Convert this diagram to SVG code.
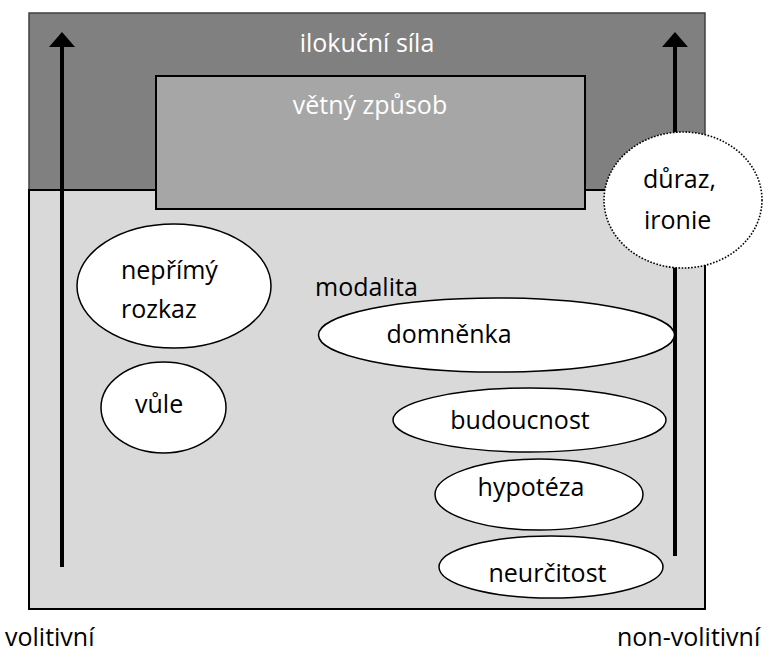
<svg xmlns="http://www.w3.org/2000/svg" width="766" height="655" viewBox="0 0 766 655">
<style>
text{font-family:"Open Sans","Noto Sans","DejaVu Sans",sans-serif;font-size:25px;fill:#000}
.w{fill:#fff}
.m{text-anchor:middle}
.node{fill:#fff;stroke:#000;stroke-width:1.5}
.dot{fill:#fff;stroke:#000;stroke-width:1.6;stroke-dasharray:1.6 1.6}
.arr{stroke:#000;stroke-width:4;fill:none}
</style>
<rect width="766" height="655" fill="#fff"/>
<g id="ilokucni-sila">
<rect x="29" y="13" width="676" height="177" fill="#808080" stroke="#404040" stroke-width="1.5"/>
<text class="w m" x="367" y="52">ilokuční síla</text>
</g>
<g id="modalita-area">
<rect x="29" y="190" width="676" height="419" fill="#d9d9d9" stroke="#000" stroke-width="2"/>
<text x="315" y="296">modalita</text>
</g>
<g id="vetny-zpusob">
<rect x="156" y="76" width="429" height="133" fill="#a6a6a6" stroke="#000" stroke-width="2"/>
<text class="w m" x="370" y="114">větný způsob</text>
</g>
<g id="connectors">
<line class="arr" x1="62" y1="567" x2="62" y2="46"/>
<polygon points="49,47 62,32 75,47" fill="#000"/>
<line class="arr" x1="675" y1="556" x2="675" y2="46"/>
<polygon points="662,47 675,32 688,47" fill="#000"/>
</g>
<g id="neprimy-rozkaz">
<ellipse class="node" cx="174" cy="286" rx="97" ry="62"/>
<text x="121" y="279">nepřímý</text>
<text x="121" y="318">rozkaz</text>
</g>
<g id="vule">
<ellipse class="node" cx="163.5" cy="407.5" rx="62.5" ry="45.5"/>
<text x="135" y="413">vůle</text>
</g>
<g id="domnenka">
<ellipse class="node" cx="496.5" cy="335" rx="178" ry="37"/>
<text class="m" x="449" y="343">domněnka</text>
</g>
<g id="budoucnost">
<ellipse class="node" cx="529.5" cy="420" rx="136.5" ry="32"/>
<text class="m" x="520" y="429">budoucnost</text>
</g>
<g id="hypoteza">
<ellipse class="node" cx="539" cy="494.5" rx="104" ry="35.5"/>
<text class="m" x="531" y="496">hypotéza</text>
</g>
<g id="neurcitost">
<ellipse class="node" cx="551" cy="567" rx="112" ry="31"/>
<text class="m" x="547.5" y="582">neurčitost</text>
</g>
<g id="duraz-ironie">
<ellipse class="dot" cx="683" cy="200" rx="79" ry="68"/>
<text x="643" y="188">důraz,</text>
<text x="644" y="229">ironie</text>
</g>
<g id="volitivni">
<text x="5" y="646">volitivní</text>
</g>
<g id="non-volitivni">
<text x="617" y="646">non-volitivní</text>
</g>
</svg>
